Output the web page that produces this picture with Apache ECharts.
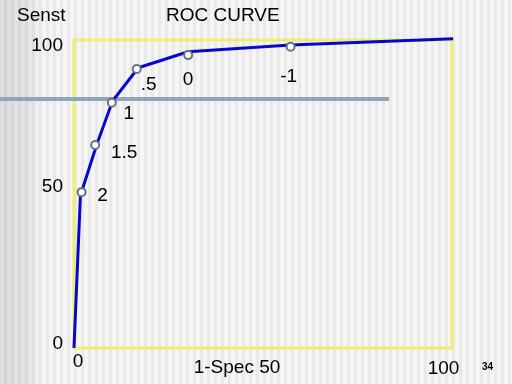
<!DOCTYPE html>
<html>
<head>
<meta charset="utf-8">
<script src="https://cdn.jsdelivr.net/npm/echarts@6/dist/echarts.min.js"></script>
<style>
html,body{margin:0;padding:0;width:512px;height:384px;overflow:hidden;}
body{
  background:
    linear-gradient(90deg, rgba(0,0,0,0.10) 0px, rgba(0,0,0,0.06) 30px, rgba(0,0,0,0) 42px),
    repeating-linear-gradient(90deg, #f5f5f5 0px, #f5f5f5 4px, #e9e9e9 4px, #e9e9e9 7px);
}
#chart{width:512px;height:384px;}
</style>
</head>
<body>
<div id="chart"></div>
<script>
// ---- data ----
const titleText = 'ROC CURVE';
const yName = 'Senst';
const pageNo = '34';
const xTicks = ['0', '1-Spec 50', '100'];
const yTicks = ['0', '50', '100'];
// curve vertices (1-Spec %, Sens %)
const curveX = [0, 1.7, 6.0, 10.2, 17.0, 30.2, 57.3, 100.3];
const curveY = [0, 49.5, 66.0, 80.2, 91.0, 96.2, 98.4, 100.4];
// cutoff markers
const cutLabels = ['2', '1.5', '1', '.5', '0', '-1'];
const cutX = [2.0, 5.6, 10.0, 16.6, 30.2, 57.3];
const cutY = [50.6, 65.9, 79.6, 90.6, 95.1, 97.8];

// label offsets (style only)
const cutOffsets = [[21, 4], [29, 8], [17, 11], [12, 16], [0, 25], [-2, 30]];

const FONT = "'Liberation Sans', Arial, sans-serif";
const chart = echarts.init(document.getElementById('chart'), null, {renderer: 'canvas'});

const curveData = curveX.map((x, i) => [x, curveY[i]]);
const cutData = cutX.map((x, i) => ({
  value: [x, cutY[i]],
  label: {show: true, formatter: cutLabels[i], offset: cutOffsets[i]}
}));

const xRich = {
  x0: {fontSize: 19, color: '#000', fontFamily: FONT, padding: [0, 0, 0, 8]},
  x50: {fontSize: 19, color: '#000', fontFamily: FONT, padding: [6, 52, 0, 0]},
  x100: {fontSize: 19, color: '#000', fontFamily: FONT, padding: [7, 17, 0, 0]}
};
const yRich = {
  y0: {fontSize: 19, color: '#000', fontFamily: FONT, padding: [0, 0, 8, 0]},
  y50: {fontSize: 19, color: '#000', fontFamily: FONT, padding: [0, 0, 14, 0]},
  y100: {fontSize: 19, color: '#000', fontFamily: FONT, padding: [12, 0, 0, 0]}
};

chart.setOption({
  animation: false,
  backgroundColor: 'transparent',
  title: [
    {text: titleText, left: 166, top: 6, padding: 0,
     textStyle: {fontSize: 19, fontWeight: 'normal', color: '#000', fontFamily: FONT}},
    {text: yName, left: 17, top: 6, padding: 0,
     textStyle: {fontSize: 19, fontWeight: 'normal', color: '#000', fontFamily: FONT}},
    {text: pageNo, left: 482, top: 362, padding: 0,
     textStyle: {fontSize: 10, fontWeight: 'bold', color: '#000', fontFamily: FONT}}
  ],
  grid: {left: 74, right: 60, top: 40, bottom: 36, show: true,
         borderColor: '#EEEE70', borderWidth: 3, backgroundColor: 'transparent'},
  xAxis: {
    type: 'value', min: 0, max: 100, interval: 50,
    axisLine: {show: false}, axisTick: {show: false}, splitLine: {show: false},
    axisLabel: {margin: 4, formatter: v => `{x${v}|${xTicks[v / 50]}}`, rich: xRich}
  },
  yAxis: {
    type: 'value', min: 0, max: 100, interval: 50,
    axisLine: {show: false}, axisTick: {show: false}, splitLine: {show: false},
    axisLabel: {margin: 11, formatter: v => `{y${v}|${yTicks[v / 50]}}`, rich: yRich}
  },
  graphic: {elements: [
    {type: 'rect', left: 0, top: 97, z: 1, shape: {width: 389, height: 4},
     style: {fill: '#8FA4BD'}}
  ]},
  series: [
    {type: 'line', data: curveData, clip: false, showSymbol: false, z: 3,
     lineStyle: {color: '#0808CC', width: 3}},
    {type: 'scatter', data: cutData, clip: false, symbol: 'emptyCircle', symbolSize: 8, z: 4,
     itemStyle: {color: '#6e6e82', borderColor: '#6e6e82', borderWidth: 1.2, opacity: 1},
     label: {position: 'inside', fontSize: 19, color: '#000', opacity: 1,
             textBorderWidth: 0, textShadowBlur: 0, fontFamily: FONT}}
  ]
});
</script>
</body>
</html>
